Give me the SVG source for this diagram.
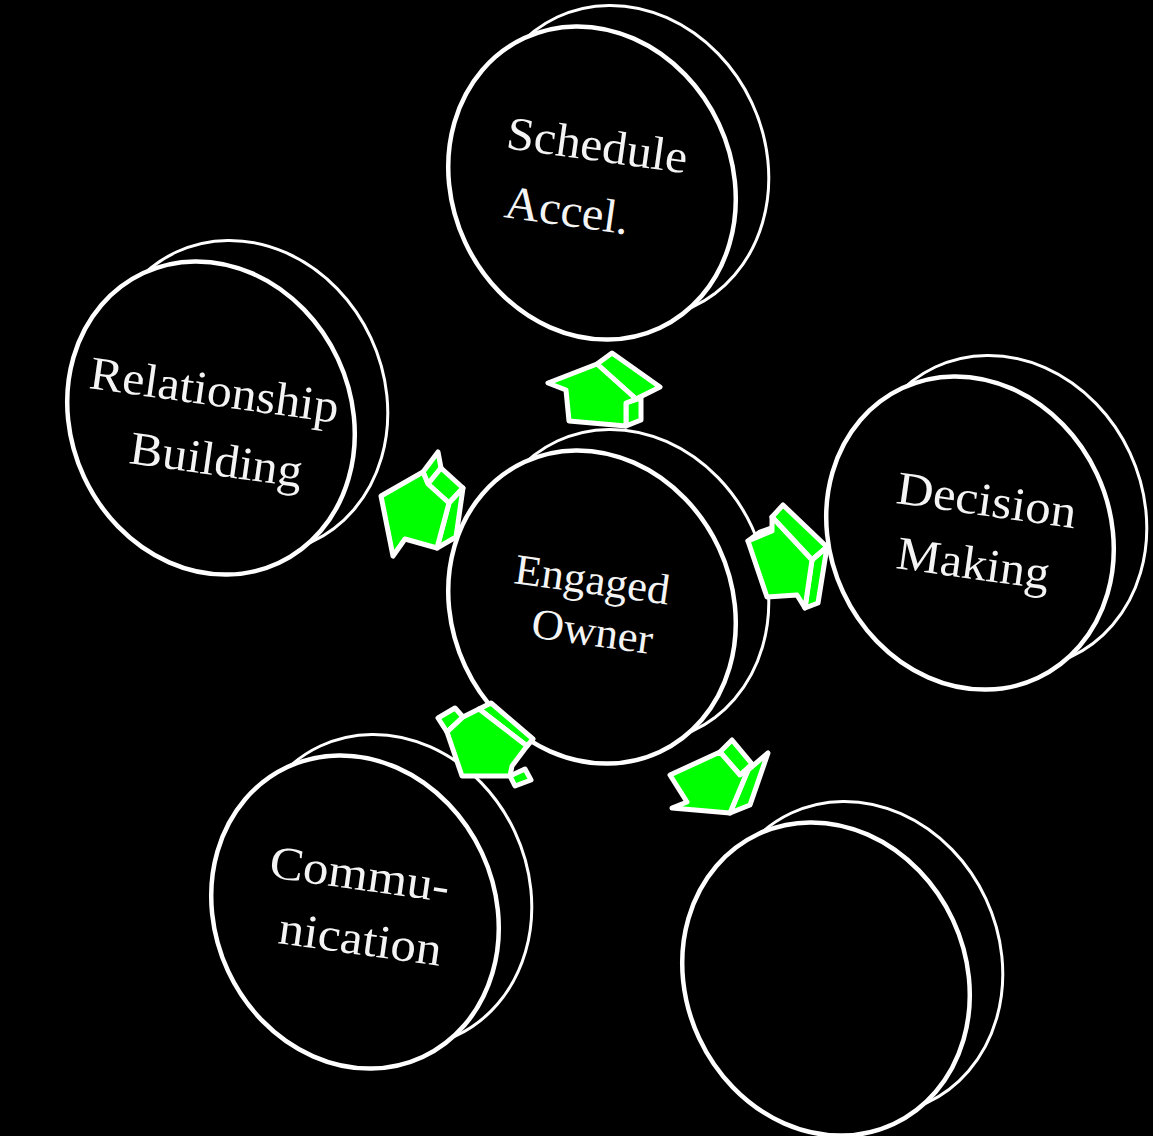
<svg xmlns="http://www.w3.org/2000/svg" width="1153" height="1136" viewBox="0 0 1153 1136">
<defs>
<style>
.back{fill:#000;stroke:#fff;stroke-width:3}
.front{fill:#000;stroke:#fff;stroke-width:4.5}
.lbl{font-family:"Liberation Serif","Times New Roman",serif;font-size:47px;fill:#f4f4f4}
.arw polygon{fill:#00ff00;stroke:#fff;stroke-width:5;stroke-linejoin:round}
</style>
</defs>
<rect width="1153" height="1136" fill="#000"/>

<g id="node-schedule">
<ellipse class="back" rx="140" ry="160" transform="translate(625,162) rotate(-25)"/>
<ellipse class="front" rx="140" ry="160" transform="translate(592,183) rotate(-25)"/>
<text class="lbl" x="505" y="148" transform="rotate(8 505 148)" textLength="182" lengthAdjust="spacingAndGlyphs">Schedule</text>
<text class="lbl" x="503" y="217" transform="rotate(8 503 217)" textLength="125" lengthAdjust="spacingAndGlyphs">Accel.</text>
</g>

<g id="node-relationship">
<ellipse class="back" rx="140" ry="160" transform="translate(244,397) rotate(-25)"/>
<ellipse class="front" rx="140" ry="160" transform="translate(211,418) rotate(-25)"/>
<text class="lbl" x="88" y="388" transform="rotate(8 88 388)" textLength="251" lengthAdjust="spacingAndGlyphs">Relationship</text>
<text class="lbl" x="128" y="463" transform="rotate(8 128 463)" textLength="174" lengthAdjust="spacingAndGlyphs">Building</text>
</g>

<g id="node-decision">
<ellipse class="back" rx="140" ry="160" transform="translate(1003,512) rotate(-25)"/>
<ellipse class="front" rx="140" ry="160" transform="translate(970,533) rotate(-25)"/>
<text class="lbl" x="895" y="503" transform="rotate(8 895 503)" textLength="181" lengthAdjust="spacingAndGlyphs">Decision</text>
<text class="lbl" x="895" y="568" transform="rotate(8 895 568)" textLength="154" lengthAdjust="spacingAndGlyphs">Making</text>
</g>

<g id="node-center">
<ellipse class="back" rx="140" ry="160" transform="translate(625,586) rotate(-25)"/>
<ellipse class="front" rx="140" ry="160" transform="translate(592,607) rotate(-25)"/>
<text class="lbl" style="font-size:43px" x="513" y="583" transform="rotate(8 513 583)" textLength="156" lengthAdjust="spacingAndGlyphs">Engaged</text>
<text class="lbl" style="font-size:43px" x="530" y="637" transform="rotate(8 530 637)" textLength="122" lengthAdjust="spacingAndGlyphs">Owner</text>
</g>

<g id="node-communication">
<ellipse class="back" rx="140" ry="160" transform="translate(388,891) rotate(-25)"/>
<ellipse class="front" rx="140" ry="160" transform="translate(355,912) rotate(-25)"/>
<text class="lbl" x="268" y="877" transform="rotate(8 268 877)" textLength="181" lengthAdjust="spacingAndGlyphs">Commu-</text>
<text class="lbl" x="277" y="943" transform="rotate(8 277 943)" textLength="164" lengthAdjust="spacingAndGlyphs">nication</text>
</g>

<g id="node-empty">
<ellipse class="back" rx="140" ry="160" transform="translate(859,958) rotate(-25)"/>
<ellipse class="front" rx="140" ry="160" transform="translate(826,979) rotate(-25)"/>
</g>

<g id="connectors" class="arw">
<g id="arrow-up">
<polygon points="597,364 612,353 660,387 636,399"/>
<polygon points="626,403 641,398 641,420 626,426"/>
<polygon points="597,364 548,383 566,390 569,421 626,426 626,403 636,399"/>
</g>
<g id="arrow-left">
<polygon points="423,472 438,452 441,468 428,484"/>
<polygon points="428,484 441,468 463,488 449,503"/>
<polygon points="449,503 463,488 456,537 437,548"/>
<polygon points="381,496 423,472 428,484 449,503 437,548 405,539 393,556"/>
</g>
<g id="arrow-right">
<polygon points="772,517 783,505 827,547 812,560"/>
<polygon points="812,560 827,547 818,603 805,608"/>
<polygon points="748,541 760,532 774,527 772,531"/>
<polygon points="748,541 772,531 772,517 812,560 805,608 797,595 767,597"/>
</g>
<g id="arrow-lowleft">
<polygon points="438,718 455,708 463,717 447,732"/>
<polygon points="479,709 491,703 533,739 527,746"/>
<polygon points="510,776 525,769 531,780 515,786"/>
<polygon points="462,776 447,732 463,717 479,709 527,746 512,766 510,776"/>
</g>
<g id="arrow-lowright">
<polygon points="720,752 732,740 752,764 740,775"/>
<polygon points="748,770 768,753 750,805 730,813"/>
<polygon points="670,775 720,752 740,775 748,770 730,813 672,808 687,802"/>
</g>
</g>
</svg>
